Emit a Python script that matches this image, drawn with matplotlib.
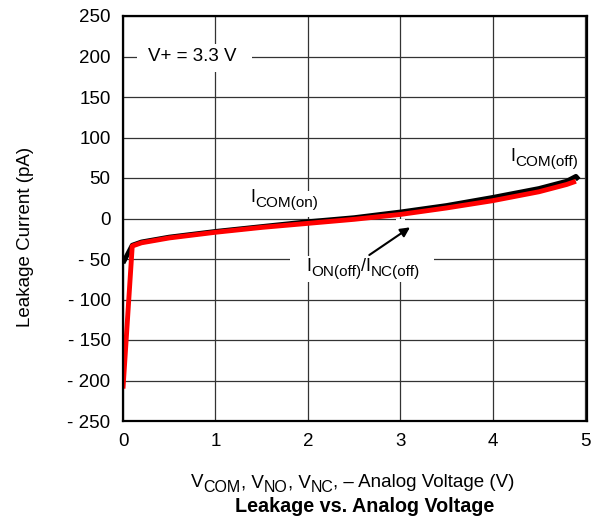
import matplotlib
matplotlib.use("Agg")
import matplotlib.pyplot as plt
from matplotlib.patches import Rectangle
from matplotlib.transforms import offset_copy

# Leakage current vs analog voltage, V+ = 3.3 V
x_com = [0, 0.1, 0.2, 0.5, 1, 1.5, 2, 2.5, 3, 3.5, 4, 4.5, 4.8, 4.9, 4.93]
y_com = [-55, -33, -29, -23, -16, -10, -4, 1, 8, 16, 26, 37, 46, 52, 48]

x_off = [0, 0.1, 0.2, 0.5, 1, 1.5, 2, 2.5, 3, 3.5, 4, 4.5, 4.8, 4.9]
y_off = [-210, -34, -30, -24, -17, -11, -6, -1, 5, 13, 22, 33, 42, 46]

x_ticks = [0, 1, 2, 3, 4, 5]
y_ticks = [-250, -200, -150, -100, -50, 0, 50, 100, 150, 200, 250]
y_tick_labels = ["- 250", "- 200", "- 150", "- 100", "- 50", "0", "50", "100", "150", "200", "250"]

plt.rcParams.update({
    "font.family": ["Liberation Sans", "DejaVu Sans"],
    "font.size": 13.5,
})

DPI = 100
fig = plt.figure(figsize=(5.99, 5.21), dpi=DPI)
ax = fig.add_axes([123 / 599, 1 - 421 / 521, (587 - 123) / 599, (421 - 16) / 521])
renderer = fig.canvas.get_renderer()


def rich_text(x, y, parts, transform, size=13, sub_size=11, sub_drop=3.5, ha="left", zorder=6):
    # lay out text pieces left to right, subscripts smaller and dropped
    widths = []
    for s, sub in parts:
        t = fig.text(0, 0, s, fontsize=sub_size if sub else size)
        widths.append(t.get_window_extent(renderer).width * 72 / DPI)
        t.remove()
    total = sum(widths)
    dx = -total / 2 if ha == "center" else 0
    for (s, sub), w in zip(parts, widths):
        tr = offset_copy(transform, fig=fig, x=dx, y=-sub_drop if sub else 0, units="points")
        fig.text(x, y, s, fontsize=sub_size if sub else size, transform=tr,
                 ha="left", va="baseline", zorder=zorder)
        dx += w


ax.plot(x_com, y_com, color="black", lw=3.5, solid_capstyle="butt", zorder=4)
ax.plot(x_off, y_off, color="#ff0000", lw=3.5, solid_capstyle="butt", zorder=5)

ax.set_xlim(0, 5.02)
ax.set_ylim(-250, 250)
ax.set_xticks(x_ticks)
ax.set_yticks(y_ticks)
ax.set_yticklabels(y_tick_labels)
ax.tick_params(length=0, pad=9, labelsize=13.5)
ax.tick_params(axis="y", pad=9)
ax.grid(True, color="#333333", lw=0.9, zorder=0)
ax.set_axisbelow(True)
for s in ax.spines.values():
    s.set_linewidth(1.6)
    s.set_zorder(7)

ax.set_ylabel("Leakage Current (pA)", fontsize=13.5)
ax.yaxis.set_label_coords(-0.192, 0.455)

# white patches where the labels break the grid
for x0, y0, w, h in [(0.15, 181, 1.25, 34), (1.33, 2, 0.82, 32),
                     (1.81, -79, 1.55, 33), (2.95, -47, 0.1, 46)]:
    ax.add_patch(Rectangle((x0, y0), w, h, facecolor="white", edgecolor="none", zorder=2))

ax.text(0.27, 195, "V+ = 3.3 V", fontsize=13.5, ha="left", va="baseline", zorder=3)
rich_text(1.38, 20, [("I", False), ("COM(on)", True)], ax.transData)
rich_text(4.19, 71, [("I", False), ("COM(off)", True)], ax.transData)
rich_text(1.98, -65, [("I", False), ("ON(off)", True), ("/I", False), ("NC(off)", True)],
          ax.transData)
ax.annotate("", xy=(3.13, -9), xytext=(2.64, -47),
            arrowprops=dict(arrowstyle="-|>", color="black", lw=1.5, mutation_scale=14),
            zorder=6)

rich_text(353 / 599, 1 - 487 / 521,
          [("V", False), ("COM", True), (", V", False), ("NO", True), (", V", False),
           ("NC", True), (", – Analog Voltage (V)", False)],
          fig.transFigure, size=13.5, sub_size=11.5, ha="center")
fig.text(365 / 599, 1 - 507 / 521, "Leakage vs. Analog Voltage", fontsize=14.2,
         fontweight="bold", ha="center", va="center")

fig.savefig("out.png", dpi=DPI)
